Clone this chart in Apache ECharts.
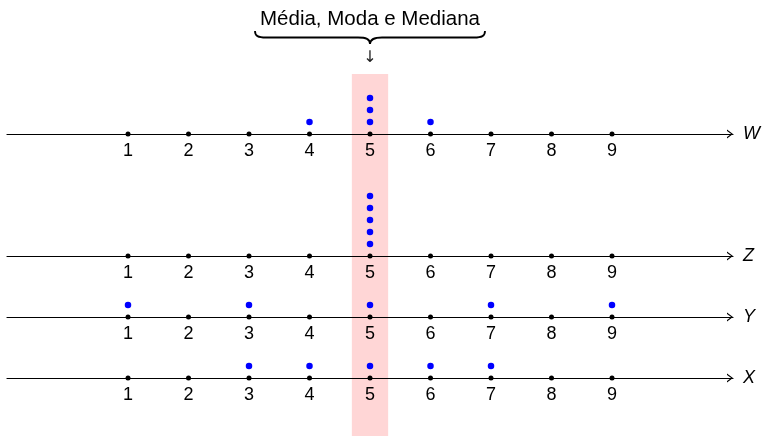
<!DOCTYPE html>
<html><head><meta charset="utf-8">
<script src="https://cdn.jsdelivr.net/npm/echarts@6/dist/echarts.min.js"></script>
<style>html,body{margin:0;padding:0;background:#fff}#c{width:766px;height:436px}</style>
</head><body><div id="c"></div>
<script>
// ---- data ----
const variables = ['W', 'Z', 'Y', 'X'];
const valuesW = [4, 5, 5, 5, 6];
const valuesZ = [5, 5, 5, 5, 5];
const valuesY = [1, 3, 5, 7, 9];
const valuesX = [3, 4, 5, 6, 7];
const tickLabels = [1, 2, 3, 4, 5, 6, 7, 8, 9];
const annotationText = 'Média, Moda e Mediana';
const centerValue = 5;

// ---- layout ----
const dataSets = [valuesW, valuesZ, valuesY, valuesX];
const H = 436;
const baselines = [134, 256, 317, 378];
const gridLeft = 7, gridRight = 33;
const FONT = '"Liberation Sans", Arial, Helvetica, sans-serif';
const chevron = 'path://M4.5,0 L9,6 L7.6,6 L4.5,1.8 L1.4,6 L0,6 Z';

const grids = [{left: gridLeft, right: gridRight, top: 0, bottom: 0}];
const xAxes = [{type: 'value', gridIndex: 0, min: -1, max: 11, show: false}];
const yAxes = [{type: 'value', gridIndex: 0, min: 0, max: H, inverse: true, show: false}];
const series = [{
  type: 'line', xAxisIndex: 0, yAxisIndex: 0, data: [], z: 1, silent: true,
  markArea: {
    silent: true,
    itemStyle: {color: '#ffd6d6'},
    data: [[{xAxis: centerValue - 0.3, yAxis: 74}, {xAxis: centerValue + 0.3, yAxis: H}]]
  }
}];

dataSets.forEach((vals, i) => {
  const gi = i + 1;
  grids.push({left: gridLeft, right: gridRight, bottom: H - baselines[i], height: 72});
  xAxes.push({
    type: 'value', gridIndex: gi, min: -1, max: 11, interval: 1, z: 3,
    axisLine: {show: true, lineStyle: {color: '#000', width: 1.2},
      symbol: ['none', chevron], symbolSize: [9, 6], symbolOffset: [0, -3]},
    axisTick: {show: false}, splitLine: {show: false},
    axisLabel: {
      color: '#000', fontSize: 18, fontFamily: FONT, margin: 8,
      formatter: v => tickLabels.includes(v) ? String(v) : ''
    },
    name: variables[i], nameLocation: 'end', nameGap: 10,
    nameTextStyle: {color: '#000', fontSize: 18, fontStyle: 'italic', fontFamily: FONT}
  });
  yAxes.push({type: 'value', gridIndex: gi, min: 0, max: 6, show: false});
  series.push({
    type: 'scatter', xAxisIndex: gi, yAxisIndex: gi, z: 4, clip: false, silent: true,
    symbolSize: 5, itemStyle: {color: '#000', opacity: 1},
    data: tickLabels.map(v => [v, 0])
  });
  const counts = {};
  const pts = vals.map(v => { counts[v] = (counts[v] || 0) + 1; return [v, counts[v]]; });
  series.push({
    type: 'scatter', xAxisIndex: gi, yAxisIndex: gi, z: 5, clip: false, silent: true,
    symbolSize: 6.5, itemStyle: {color: '#0000ff', opacity: 1},
    data: pts
  });
});

const chart = echarts.init(document.getElementById('c'), null, {renderer: 'canvas'});
chart.setOption({
  animation: false,
  backgroundColor: '#fff',
  grid: grids, xAxis: xAxes, yAxis: yAxes, series: series
});

const cx = chart.convertToPixel({xAxisIndex: 0}, centerValue);
const st = {stroke: '#000', lineWidth: 1.8, fill: null};
chart.setOption({
  graphic: [{
    type: 'group', x: cx, y: 0,
    children: [
      {type: 'text', x: 0, y: 19, style: {text: annotationText, fontSize: 20.5, fontFamily: FONT,
        fill: '#000', textAlign: 'center', textVerticalAlign: 'middle'}},
      {type: 'bezierCurve', shape: {x1: -115, y1: 31, cpx1: -115, cpy1: 36, cpx2: -112, cpy2: 37.5, x2: -104, y2: 37.5}, style: st},
      {type: 'line', shape: {x1: -104, y1: 37.5, x2: -12, y2: 37.5}, style: st},
      {type: 'bezierCurve', shape: {x1: -12, y1: 37.5, cpx1: -4, cpy1: 37.5, cpx2: 0, cpy2: 39, x2: 0, y2: 44}, style: st},
      {type: 'bezierCurve', shape: {x1: 0, y1: 44, cpx1: 0, cpy1: 39, cpx2: 4, cpy2: 37.5, x2: 12, y2: 37.5}, style: st},
      {type: 'line', shape: {x1: 12, y1: 37.5, x2: 104, y2: 37.5}, style: st},
      {type: 'bezierCurve', shape: {x1: 104, y1: 37.5, cpx1: 112, cpy1: 37.5, cpx2: 115, cpy2: 36, x2: 115, y2: 31}, style: st},
      {type: 'text', x: 0, y: 58, style: {text: '↓', fontSize: 16, fontFamily: '"DejaVu Sans", sans-serif',
        fill: '#222', textAlign: 'center', textVerticalAlign: 'middle'}}
    ]
  }]
});
</script></body></html>
